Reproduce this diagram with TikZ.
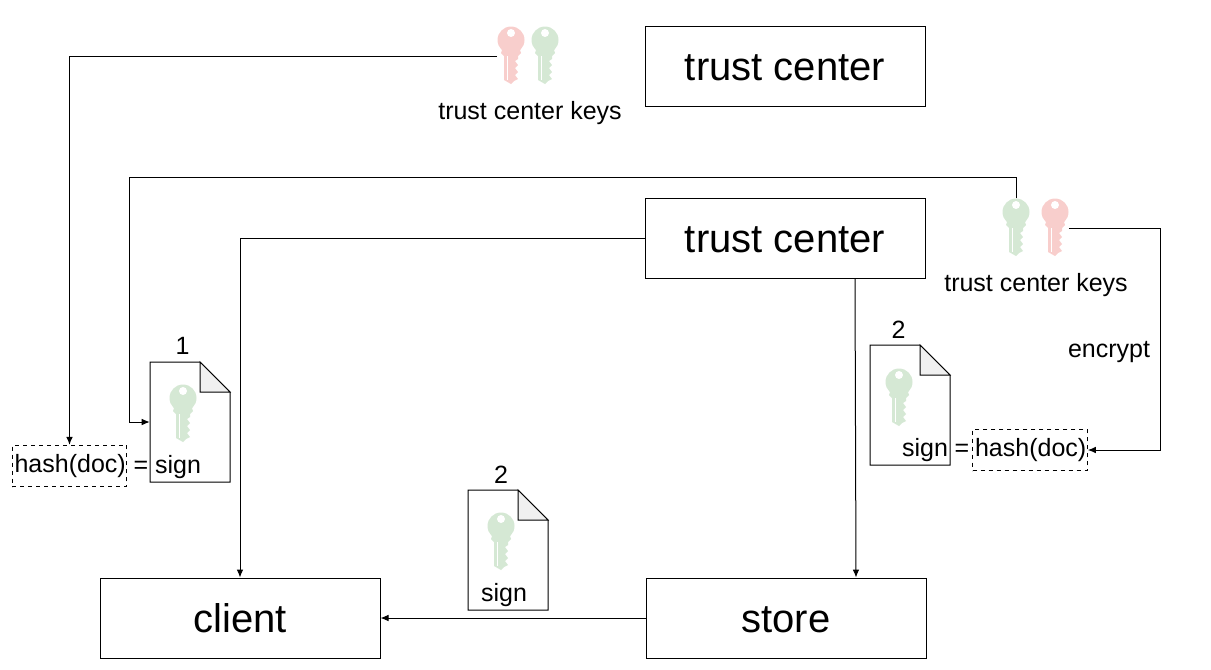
\documentclass[tikz,border=0pt]{standalone}
\usepackage{fontspec}
\setmainfont{Liberation Sans}
\usetikzlibrary{arrows.meta,positioning,calc}
\definecolor{keyred}{HTML}{F8CECC}
\definecolor{keygreen}{HTML}{D5E8D4}
\definecolor{foldgray}{HTML}{F0F0F0}
\tikzset{
  mainbox/.style={
    draw=black,
    line width=0.75pt,
    minimum width=210pt,
    minimum height=60pt,
    text height=22pt,
    text depth=0pt,
    font=\fontsize{30}{34}\selectfont
  },
  hashbox/.style={
    draw=black,
    dashed,
    line width=0.75pt,
    inner xsep=0pt,
    minimum width=86pt,
    minimum height=31pt,
    execute at begin node={\kern1pt},
    font=\fontsize{18.75}{22}\selectfont
  },
  label/.style={
    inner sep=0pt,
    font=\fontsize{18.75}{22}\selectfont
  },
  keyslot/.style={
    inner sep=0pt,
    minimum width=20.25pt,
    minimum height=44pt
  },
  docslot/.style={
    inner sep=0pt,
    minimum width=60pt,
    minimum height=90pt
  },
  arrow/.style={
    -{Latex[length=6pt,width=5pt]},
    line width=0.75pt,
    draw=black
  },
  keypic/.pic={
    \fill[pic actions] (0,0) circle[radius=13.5];
    \fill[pic actions] (-9,10) -- (9,10) -- (10,13) -- (7,16) -- (7,19) -- (4,21) -- (7,25)
      -- (4,28) -- (7,32) -- (4,35) -- (7,39) -- (3,41) -- (0,44) -- (-7,40) -- (-7,16) -- (-10,13) -- cycle;
    \fill[white] (0,-7) circle[radius=4];
    \fill[white] (-4,16) rectangle (-3,40);
  },
  docpic/.pic={
    \draw[line width=0.75pt,fill=white] (-40,-60) -- (10,-60) -- (40,-30) -- (40,60) -- (-40,60) -- cycle;
    \draw[line width=0.75pt,fill=foldgray] (10,-60) -- (40,-30) -- (10,-30) -- cycle;
  }
}
\begin{document}
\begin{tikzpicture}[x=0.75pt,y=-0.75pt]
\useasboundingbox (0,0) rectangle (1211,669);
\node[mainbox] (center1) at (785,66) {trust center};
\node[mainbox] (center2) at (785,238) {trust center};
\node[mainbox] (client) at (240,618) {client};
\node[mainbox] (store) at (786,618) {store};

\node[keyslot] (keya) at (511,56) {};
\node[keyslot] (keyb) at (545,56) {};
\node[keyslot] (keyc) at (1016,228) {};
\node[keyslot] (keyd) at (1055,228) {};
\pic[fill=keyred] at (511,40) {keypic};
\pic[fill=keygreen] at (545,40) {keypic};
\pic[fill=keygreen] at (1016,212) {keypic};
\pic[fill=keyred] at (1055,212) {keypic};
\node[label] (keysa) at (530,113.5) {trust center keys};
\node[label] (keysb) at (1036,285.5) {trust center keys};

\node[docslot] (doca) at (190,422) {};
\node[docslot] (docb) at (910,405) {};
\node[docslot] (docc) at (508,550) {};
\pic at (doca) {docpic};
\pic at (docb) {docpic};
\pic at (docc) {docpic};
\pic[fill=keygreen] at (183,398) {keypic};
\pic[fill=keygreen] at (899,382) {keypic};
\pic[fill=keygreen] at (501,526) {keypic};

\node[label] (numa) at (182.5,346) {1};
\node[label] (numb) at (898.5,330) {2};
\node[label] (numc) at (501,475) {2};
\node[label] (signa) at (178,467) {sign};
\node[label] (signb) at (925,450) {sign};
\node[label] (signc) at (504,595) {sign};
\node[label] (eqa) at (141,467) {=};
\node[label] (eqb) at (962,450) {=};
\node[hashbox] (hasha) at (69.5,466) {hash(doc)};
\node[hashbox] (hashb) at (1030,450) {hash(doc)};
\node[label] (encrypt) at (1109,352) {encrypt};

\draw[arrow] (keya.west) -| (hasha.north);
\draw[arrow] (keyc.north) |- ($(doca.north west)+(-20,-184)$) |- (doca.west);
\draw[arrow] (center2.west) -| (client.north);
\draw[arrow] ($(center2.south)+(70,0)$) -- ($(store.north)+(70,0)$);
\draw[arrow] (keyd.east) -- ++(91.5,0) |- (hashb.east);
\draw[arrow] (store.west) -- (client.east);
\end{tikzpicture}
\end{document}
